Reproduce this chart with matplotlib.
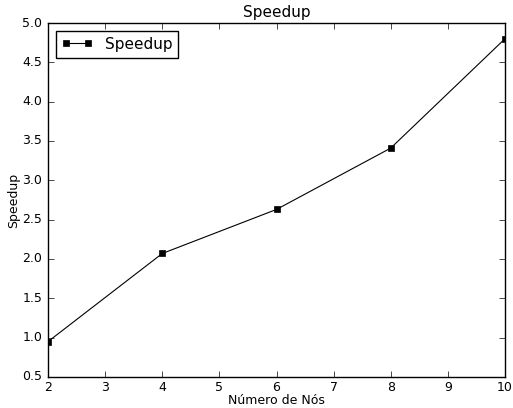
import matplotlib
matplotlib.use('Agg')
import matplotlib.pyplot as plt

plt.style.use('classic')

nos = [2, 4, 6, 8, 10]
speedup = [0.95, 2.07, 2.63, 3.41, 4.80]

fig = plt.figure(figsize=(5.13, 4.08), dpi=100)
ax = fig.add_axes([48/513, 31/408, 457/513, 354/408])

ax.plot(nos, speedup, 'k-s', label="Speedup", linewidth=0.8, markersize=5)

ax.set_xlim(2, 10)
ax.set_ylim(0.5, 5.0)
ax.set_title("Speedup", fontsize=11, pad=4)
ax.set_xlabel(u"Número de Nós", fontsize=9, labelpad=0)
ax.set_ylabel("Speedup", fontsize=9, labelpad=2)
ax.tick_params(labelsize=9)
ax.tick_params(axis='x', pad=3)
ax.legend(loc='upper left', fontsize=11, numpoints=2)

fig.savefig('out.png', dpi=100)
